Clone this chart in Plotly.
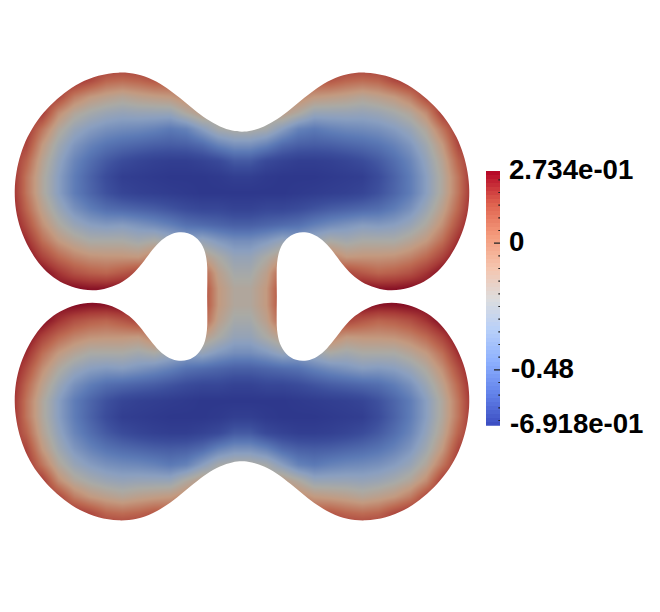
import numpy as np
import plotly.graph_objects as go

# canvas
WIDTH = 660
HEIGHT = 612

# scalar range of the colour bar
VMIN = -0.6918
VMAX = 0.2734

# symmetry lines of the shape, in picture pixels
MID_X = 242
MID_Y = 296.5

# top-left quarter of the outline, from the top saddle to the neck
outline_x = [242, 233.3, 220, 206.7, 193.3, 180, 166.7, 153.3, 136.7, 120, 96.7, 80, 63.3, 50, 36.7,
             26.7, 20, 16, 14, 15, 20, 28.3, 40, 53.3, 66.7, 83.3, 100, 116.7, 130, 140, 148.3,
             156.7, 166.7, 176.7, 188.3, 198.3, 205, 207.7, 207.3, 207]
outline_y = [132, 131.3, 127.3, 120, 109, 98, 87.3, 79, 73.5, 71, 75.2, 81.7, 93.3, 105, 120,
             136.7, 155, 171.7, 190, 210, 230, 248.3, 266.7, 278.3, 285.5, 291, 291, 286, 277.5, 266.7, 255,
             244, 235.5, 231.5, 231.5, 238.3, 248.3, 261.7, 280, 296.5]

# top-left quarter of the field (0 = deepest blue, 1 = darkest red)
grid_x = [10, 26, 42, 58, 74, 90, 106, 122, 138, 154, 170, 186, 202, 218, 234]
grid_y = [64.5, 80.5, 96.5, 112.5, 128.5, 144.5, 160.5, 176.5, 192.5, 208.5, 224.5, 240.5, 256.5, 272.5, 288.5]
field = [
    [.90, .90, .90, .90, .90, .90, .90, .90, .90, .90, .85, .75, .65, .55, .50],
    [.90, .90, .90, .90, .90, .84, .76, .74, .76, .80, .80, .75, .65, .55, .50],
    [.90, .90, .90, .85, .70, .62, .58, .55, .58, .60, .62, .68, .65, .55, .50],
    [.90, .90, .88, .66, .54, .48, .44, .42, .43, .43, .43, .52, .60, .56, .50],
    [.90, .90, .72, .54, .43, .37, .33, .31, .30, .28, .25, .28, .38, .48, .51],
    [.90, .85, .62, .46, .35, .28, .23, .20, .18, .16, .15, .16, .20, .28, .33],
    [.92, .77, .56, .41, .29, .21, .14, .09, .06, .04, .03, .03, .05, .08, .14],
    [.95, .72, .53, .38, .26, .17, .09, .03, .02, .01, .00, .00, .00, .01, .03],
    [.95, .72, .53, .38, .26, .18, .11, .06, .04, .03, .02, .01, .00, .00, .00],
    [.97, .76, .58, .44, .33, .26, .21, .19, .17, .15, .12, .09, .07, .07, .05],
    [1.0, .83, .65, .52, .43, .38, .36, .37, .34, .31, .27, .22, .20, .18, .16],
    [1.0, .92, .74, .62, .55, .50, .50, .50, .47, .50, .45, .40, .42, .36, .32],
    [1.0, 1.0, .86, .75, .68, .64, .63, .63, .62, .70, .55, .50, .59, .50, .42],
    [1.0, 1.0, 1.0, .90, .82, .78, .76, .80, .85, .80, .60, .60, .79, .58, .48],
    [1.0, 1.0, 1.0, 1.0, 1.0, .98, .98, 1.0, .90, .80, .60, .60, .86, .62, .53],
]

# colours the lit surface shows along the field
field_stops = [0, .1, .25, .38, .5, .62, .75, .88, 1]
field_colors = ["#2e388c", "#3c4e9c", "#5c7ab6", "#8a9fc0", "#aaaaa5", "#c39a80",
                "#bd6a52", "#a83c38", "#820a22"]

# colour bar
bar_stops = [0, .125, .25, .375, .5, .625, .75, .875, 1]
bar_colors = ["#3b4cc0", "#6282ea", "#8db0fe", "#b8d0f9", "#dddddd", "#f5c4ad",
              "#f49a7b", "#de604d", "#b40426"]
bar_bands = 64
major_ticks = [0, -0.48]
minor_ticks = [0.24, 0.192, 0.144, 0.096, 0.048, -0.048, -0.096, -0.144, -0.192, -0.24,
               -0.288, -0.336, -0.384, -0.432, -0.528, -0.576, -0.624, -0.672]
labels = ["2.734e-01", "0", "-0.48", "-6.918e-01"]
labels_x = [508, 508, 510, 509]
labels_y = [169, 241, 368, 423]

# mirror the quarter tables
xs = np.array(grid_x, dtype=float)
ys = np.array(grid_y, dtype=float)
top = np.hstack([np.array(field), np.array(field)[:, ::-1]])
z = np.vstack([top, top[::-1]])
all_x = np.concatenate([xs, 2 * MID_X - xs[::-1]])
all_y = np.concatenate([ys, 2 * MID_Y - ys[::-1]])

qx = np.array(outline_x)
qy = np.array(outline_y)
px = np.concatenate([qx, qx[::-1][1:], 2 * MID_X - qx[1:], 2 * MID_X - qx[::-1][1:-1]])
py = np.concatenate([qy, 2 * MID_Y - qy[::-1][1:], 2 * MID_Y - qy[1:], qy[::-1][1:-1]])


def soften(v):
    # take the reading noise out of the hand-picked outline
    return (np.roll(v, 1) + 2 * v + np.roll(v, -1)) / 4


def smooth_path(x, y):
    # closed catmull-rom through the outline points
    n = len(x)
    d = f"M{x[0]:.2f},{y[0]:.2f}"
    for i in range(n):
        p0, p1, p2, p3 = (i - 1) % n, i, (i + 1) % n, (i + 2) % n
        c1x = x[p1] + (x[p2] - x[p0]) / 6
        c1y = y[p1] + (y[p2] - y[p0]) / 6
        c2x = x[p2] - (x[p3] - x[p1]) / 6
        c2y = y[p2] - (y[p3] - y[p1]) / 6
        d += f" C{c1x:.2f},{c1y:.2f} {c2x:.2f},{c2y:.2f} {x[p2]:.2f},{y[p2]:.2f}"
    return d + " Z"


fig = go.Figure()

fig.add_trace(go.Heatmap(
    x=all_x, y=all_y, z=z, zmin=0, zmax=1, zsmooth="best", showscale=False,
    colorscale=[[s, c] for s, c in zip(field_stops, field_colors)],
    hoverinfo="skip",
))

# colour bar as its own small axes
edges = np.linspace(VMIN, VMAX, bar_bands + 1)
fig.add_trace(go.Heatmap(
    x=[0, 1], y=edges, z=[[v] for v in (edges[:-1] + edges[1:]) / 2],
    zmin=VMIN, zmax=VMAX, showscale=False, xaxis="x2", yaxis="y2",
    colorscale=[[s, c] for s, c in zip(bar_stops, bar_colors)],
    hoverinfo="skip",
))


def tick_segments(values, x0, x1):
    tx, ty = [], []
    for v in values:
        tx += [x0, x1, None]
        ty += [v, v, None]
    return tx, ty


for vals, x0 in ((minor_ticks, 0.88), (major_ticks, 0.57)):
    tx, ty = tick_segments(vals, x0, 1.41)
    fig.add_trace(go.Scatter(
        x=tx, y=ty, mode="lines", xaxis="x2", yaxis="y2", cliponaxis=False,
        line=dict(color="#222222", width=1.2), showlegend=False, hoverinfo="skip",
    ))

# white mask with the shape cut out of it
mask = f"M0,50 L484,50 L484,545 L0,545 Z {smooth_path(soften(px), soften(py))}"

fig.update_layout(
    width=WIDTH,
    height=HEIGHT,
    margin=dict(l=0, r=0, t=0, b=0),
    paper_bgcolor="white",
    plot_bgcolor="white",
    showlegend=False,
    xaxis=dict(range=[0, WIDTH], domain=[0, 1], visible=False),
    yaxis=dict(range=[HEIGHT, 0], domain=[0, 1], visible=False),
    xaxis2=dict(range=[0, 1], domain=[486 / WIDTH, 500 / WIDTH], visible=False, anchor="y2"),
    yaxis2=dict(range=[VMIN, VMAX], domain=[(HEIGHT - 425.7) / HEIGHT, (HEIGHT - 171) / HEIGHT],
                visible=False, anchor="x2"),
    shapes=[dict(type="path", path=mask, xref="x", yref="y", fillcolor="white",
                 fillrule="evenodd", line=dict(width=0), layer="above")],
    annotations=[
        dict(text=t, x=lx, y=ly, xref="x", yref="y", xanchor="left", yanchor="middle",
             showarrow=False, borderpad=0,
             font=dict(family="Liberation Sans", size=27.6, color="#000000", weight="bold"))
        for t, lx, ly in zip(labels, labels_x, labels_y)
    ],
)

# page margin would push the chart 8px off
fig.write_html("out.html", config=dict(displayModeBar=False),
               post_script="document.body.style.margin='0';")
